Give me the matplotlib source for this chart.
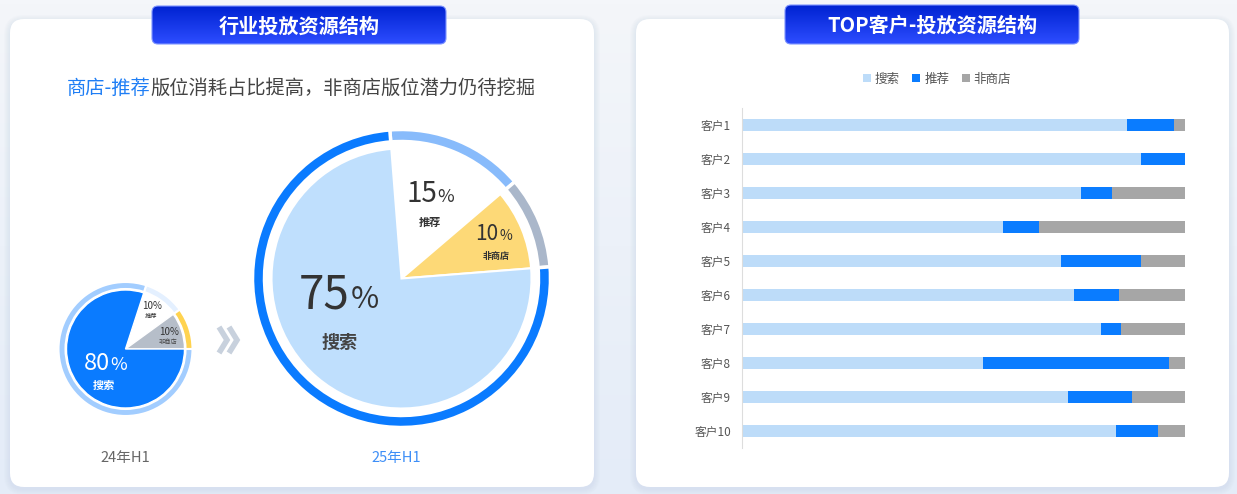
import numpy as np
import matplotlib
matplotlib.use("Agg")
import matplotlib.pyplot as plt
from matplotlib.patches import FancyBboxPatch
from matplotlib.colors import LinearSegmentedColormap

plt.rcParams['font.family'] = ['Noto Sans CJK SC', 'DejaVu Sans']

W, H = 1237, 494

# data
pie_labels = ['推荐', '非商店', '搜索']
share_24h1 = [10, 10, 80]
share_25h1 = [15, 10, 75]
period_labels = ['24年H1', '25年H1']

customers = ['客户1', '客户2', '客户3', '客户4', '客户5',
             '客户6', '客户7', '客户8', '客户9', '客户10']
search = [87, 90, 76.5, 59, 72, 75, 81, 54.5, 73.5, 84.5]
recommend = [10.5, 10, 7, 8, 18, 10, 4.5, 42, 14.5, 9.5]
non_store = [2.5, 0, 16.5, 33, 10, 15, 14.5, 3.5, 12, 6]
series_names = ['搜索', '推荐', '非商店']

fig = plt.figure(figsize=(W / 100, H / 100), dpi=100)

# background layer in pixel coordinates
ax_bg = fig.add_axes([0, 0, 1, 1])
ax_bg.set_xlim(0, W)
ax_bg.set_ylim(H, 0)
ax_bg.axis('off')

bg_cmap = LinearSegmentedColormap.from_list('bg', ['#f4f6fa', '#e4ecf8'])
ax_bg.imshow(np.linspace(0, 1, 100).reshape(-1, 1), cmap=bg_cmap,
             extent=(0, W, H, 0), aspect='auto', zorder=0)


def card(x0, y0, x1, y1):
    for i in range(1, 7):
        ax_bg.add_patch(FancyBboxPatch((x0 - i, y0 - i + 2), x1 - x0 + 2 * i, y1 - y0 + 2 * i,
                                       boxstyle='round,pad=0,rounding_size=%d' % (14 + i),
                                       facecolor='#aabbd8', edgecolor='none', alpha=0.035, zorder=1))
    ax_bg.add_patch(FancyBboxPatch((x0, y0), x1 - x0, y1 - y0,
                                   boxstyle='round,pad=0,rounding_size=14',
                                   facecolor='white', edgecolor='none', zorder=2))


tab_cmap = LinearSegmentedColormap.from_list('tab', ['#0023d2', '#2d4dff'])


def tab(x0, y0, x1, y1, text):
    p = FancyBboxPatch((x0, y0), x1 - x0, y1 - y0,
                       boxstyle='round,pad=0,rounding_size=6',
                       facecolor='none', edgecolor='#7f95ff', lw=0.8, zorder=4)
    ax_bg.add_patch(p)
    im = ax_bg.imshow(np.linspace(0, 1, 50).reshape(-1, 1), cmap=tab_cmap,
                      extent=(x0, x1, y1, y0), aspect='auto', zorder=3)
    im.set_clip_path(p)
    ax_bg.text((x0 + x1) / 2, (y0 + y1) / 2 + 1, text, color='white', fontsize=14.5,
               fontweight='bold', ha='center', va='center', zorder=5)


card(10, 19, 594, 487)
card(636, 19, 1229, 487)
tab(152, 6, 446, 44, '行业投放资源结构')
tab(785, 5, 1079, 44, 'TOP客户-投放资源结构')
ax_bg.set_xlim(0, W)
ax_bg.set_ylim(H, 0)


def sq_axes(cx, cy, half):
    a = fig.add_axes([(cx - half) / W, 1 - (cy + half) / H, 2 * half / W, 2 * half / H])
    a.set_facecolor('none')
    return a


# small pie (24H1)
ax_s = sq_axes(125.5, 349, 70)
ax_s.pie(share_24h1, radius=67 / 70, startangle=72, counterclock=False,
         colors=['#e4f0ff', '#ffd34f', '#a2cdff'],
         wedgeprops=dict(width=7 / 70, edgecolor='white', linewidth=1.5))
ax_s.pie(share_24h1, radius=59 / 70, startangle=72, counterclock=False,
         colors=['#ffffff', '#b6bec9', '#0a7bff'],
         wedgeprops=dict(edgecolor='white', linewidth=1.0))
ax_s.set_xlim(-1, 1)
ax_s.set_ylim(-1, 1)
ax_s.set_aspect('equal')
ax_s.axis('off')

# big pie (25H1)
ax_b = sq_axes(401.5, 278.5, 150)
ax_b.pie(share_25h1, radius=149 / 150, startangle=94.5, counterclock=False,
         colors=['#88bbfb', '#aab7ca', '#0a7bff'],
         wedgeprops=dict(width=12 / 150, edgecolor='white', linewidth=2.5))
ax_b.pie(share_25h1, radius=130 / 150, startangle=94.5, counterclock=False,
         colors=['#ffffff', '#fdd977', '#bfdffd'],
         wedgeprops=dict(edgecolor='white', linewidth=1.5))
ax_b.set_xlim(-1, 1)
ax_b.set_ylim(-1, 1)
ax_b.set_aspect('equal')
ax_b.axis('off')

# stacked bars
ax_bar = fig.add_axes([742 / W, 1 - 448 / H, (1185 - 742) / W, (448 - 108) / H])
ax_bar.set_facecolor('none')
y = np.arange(len(customers))
left = np.zeros(len(customers))
bar_colors = ['#bddcf9', '#0a7cff', '#a6a6a6']
handles = []
for vals, col, name in zip([search, recommend, non_store], bar_colors, series_names):
    b = ax_bar.barh(y, vals, left=left, height=0.38, color=col, label=name)
    handles.append(b)
    left += np.array(vals)
ax_bar.set_xlim(0, 100)
ax_bar.set_ylim(len(customers) - 0.5, -0.5)
ax_bar.set_yticks(y)
ax_bar.set_yticklabels(customers, fontsize=8.5, color='#555555')
ax_bar.tick_params(axis='y', length=0, pad=8)
ax_bar.set_xticks([])
for s in ['top', 'right', 'bottom']:
    ax_bar.spines[s].set_visible(False)
ax_bar.spines['left'].set_color('#dddddd')
ax_bar.legend(handles=handles, loc='center', bbox_to_anchor=(937 / W, 1 - 79 / H),
              bbox_transform=fig.transFigure, ncol=3, frameon=False, fontsize=9,
              handlelength=0.65, handleheight=0.65, handletextpad=0.3,
              columnspacing=1.0, labelcolor='#555555')

# foreground text layer
ax_fg = fig.add_axes([0, 0, 1, 1])
ax_fg.set_facecolor('none')
ax_fg.set_xlim(0, W)
ax_fg.set_ylim(H, 0)
ax_fg.axis('off')

t1 = ax_fg.text(67, 88, '商店-推荐', color='#1f7ef5', fontsize=13.9, va='center')
fig.canvas.draw()
bb = t1.get_window_extent()
ax_fg.text(bb.x1, 88, '版位消耗占比提高，非商店版位潜力仍待挖掘', color='#444444',
           fontsize=13.9, va='center')

# big pie labels
ax_fg.text(350, 308, f'{share_25h1[2]}', fontsize=33, color='#333333', ha='right', va='baseline')
ax_fg.text(351, 308, '%', fontsize=22, color='#333333', ha='left', va='baseline')
ax_fg.text(340, 342, pie_labels[2], fontsize=13, color='#444444', ha='center', va='center',
           fontweight='bold')
ax_fg.text(437, 202, f'{share_25h1[0]}', fontsize=20, color='#333333', ha='right', va='baseline')
ax_fg.text(437.5, 202, '%', fontsize=13, color='#333333', ha='left', va='baseline')
ax_fg.text(430, 222, pie_labels[0], fontsize=8, color='#333333', ha='center', va='center',
           fontweight='bold')
ax_fg.text(498.5, 240, f'{share_25h1[1]}', fontsize=15, color='#333333', ha='right', va='baseline')
ax_fg.text(499, 240, '%', fontsize=10, color='#333333', ha='left', va='baseline')
ax_fg.text(496, 256, pie_labels[1], fontsize=6.5, color='#333333', ha='center', va='center',
           fontweight='bold')

# small pie labels
ax_fg.text(110, 370, f'{share_24h1[2]}', fontsize=17, color='white', ha='right', va='baseline')
ax_fg.text(110.5, 370, '%', fontsize=13, color='white', ha='left', va='baseline')
ax_fg.text(104, 385, pie_labels[2], fontsize=8, color='white', ha='center', va='center',
           fontweight='bold')
ax_fg.text(152, 309, f'{share_24h1[0]}%', fontsize=7, color='#333333', ha='center', va='baseline')
ax_fg.text(151.5, 316, pie_labels[0], fontsize=4.5, color='#333333', ha='center', va='center')
ax_fg.text(169, 335, f'{share_24h1[1]}%', fontsize=7, color='#333333', ha='center', va='baseline')
ax_fg.text(168, 342, pie_labels[1], fontsize=4.5, color='#444444', ha='center', va='center')

# chevrons between the pies
for dx in (0, 10):
    ax_fg.plot([219 + dx, 227 + dx, 219 + dx], [327, 340, 353], color='#c8d1dd', lw=4,
               solid_joinstyle='miter', solid_capstyle='butt')

ax_fg.text(125, 458, period_labels[0], fontsize=10.5, color='#666666', ha='center', va='center')
ax_fg.text(396, 458, period_labels[1], fontsize=10.5, color='#3d8ef7', ha='center', va='center')

fig.savefig('out.png', dpi=100)
